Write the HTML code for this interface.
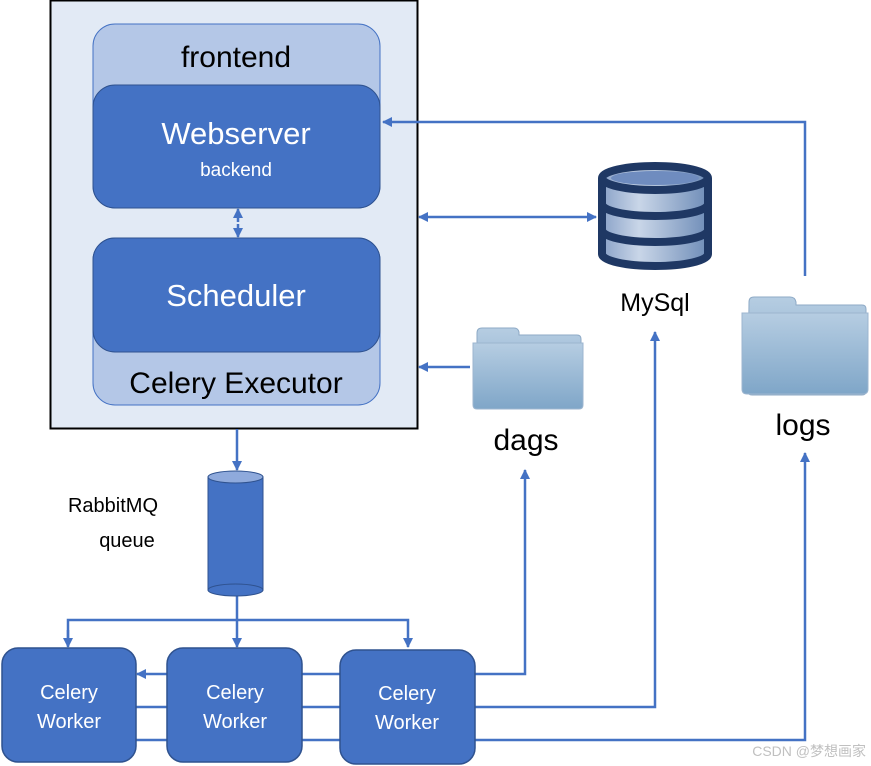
<!DOCTYPE html>
<html><head><style>body{margin:0;background:#fff}svg{display:block;font-family:"Liberation Sans","DejaVu Sans",sans-serif}</style></head><body>
<svg width="871" height="766" viewBox="0 0 871 766">
<defs>
<marker id="a" markerWidth="10" markerHeight="10" refX="9" refY="5" orient="auto" markerUnits="userSpaceOnUse"><path d="M0,0L10,5L0,10z" fill="#4472c4"/></marker>
<linearGradient id="f" x1="0" y1="0" x2="0" y2="1"><stop offset="0" stop-color="#b6cde2"/><stop offset="1" stop-color="#7fa6c8"/></linearGradient>
<linearGradient id="d" x1="0" y1="0" x2="1" y2="0"><stop offset="0" stop-color="#8aa2c8"/><stop offset=".35" stop-color="#c9d6e8"/><stop offset="1" stop-color="#6f8db8"/></linearGradient>
</defs>
<rect x="50.5" y="0.5" width="367" height="428" fill="#e2eaf5" stroke="#000" stroke-width="2"/>
<rect x="93" y="24" width="287" height="184" rx="22" fill="#b4c7e7" stroke="#4472c4"/>
<text x="236" y="67" font-size="30" text-anchor="middle" fill="#000">frontend</text>
<rect x="93" y="85" width="287" height="123" rx="22" fill="#4472c4" stroke="#2f528f"/>
<text x="236" y="144" font-size="31" text-anchor="middle" fill="#fff">Webserver</text>
<text x="236" y="176" font-size="19" text-anchor="middle" fill="#fff">backend</text>
<rect x="93" y="238" width="287" height="167" rx="22" fill="#b4c7e7" stroke="#4472c4"/>
<rect x="93" y="238" width="287" height="114" rx="22" fill="#4472c4" stroke="#2f528f"/>
<text x="236" y="306" font-size="31" text-anchor="middle" fill="#fff">Scheduler</text>
<text x="236" y="393" font-size="30" text-anchor="middle" fill="#000">Celery Executor</text>
<g stroke="#4472c4" stroke-width="2.5" fill="none">
<line x1="238" y1="222" x2="238" y2="209" marker-end="url(#a)"/>
<line x1="238" y1="224" x2="238" y2="237" marker-end="url(#a)"/>
<polyline points="805,276 805,122 383,122" marker-end="url(#a)"/>
<line x1="500" y1="217" x2="419" y2="217" marker-end="url(#a)"/>
<line x1="500" y1="217" x2="596" y2="217" marker-end="url(#a)"/>
<line x1="470" y1="367" x2="419" y2="367" marker-end="url(#a)"/>
<line x1="237" y1="429" x2="237" y2="470" marker-end="url(#a)"/>
<polyline points="237,590 237,620"/>
<polyline points="68,646 68,620 408,620 408,647" marker-end="url(#a)"/>
<line x1="68" y1="630" x2="68" y2="647" marker-end="url(#a)"/>
<line x1="237" y1="620" x2="237" y2="647" marker-end="url(#a)"/>
<line x1="340" y1="674" x2="137" y2="674" marker-end="url(#a)"/>
<line x1="136" y1="707" x2="340" y2="707"/>
<line x1="136" y1="740" x2="340" y2="740"/>
<polyline points="475,674 525,674 525,470" marker-end="url(#a)"/>
<polyline points="475,707 655,707 655,332" marker-end="url(#a)"/>
<polyline points="475,740 805,740 805,453" marker-end="url(#a)"/>
</g>
<rect x="208" y="477" width="55" height="113" fill="#4472c4" stroke="#2f528f"/>
<ellipse cx="235.5" cy="590" rx="27.5" ry="6" fill="#4472c4" stroke="#2f528f"/>
<ellipse cx="235.5" cy="477" rx="27.5" ry="6" fill="#8faadc" stroke="#2f528f"/>
<text x="113" y="512" font-size="20" text-anchor="middle">RabbitMQ</text>
<text x="127" y="547" font-size="20" text-anchor="middle">queue</text>
<g fill="#4472c4" stroke="#2f528f" stroke-width="1.5">
<rect x="2" y="648" width="134" height="114" rx="16"/>
<rect x="167" y="648" width="135" height="114" rx="16"/>
<rect x="340" y="650" width="135" height="114" rx="16"/>
</g>
<g fill="#fff" font-size="20" text-anchor="middle">
<text x="69" y="699">Celery</text><text x="69" y="728">Worker</text>
<text x="235" y="699">Celery</text><text x="235" y="728">Worker</text>
<text x="407" y="700">Celery</text><text x="407" y="729">Worker</text>
</g>
<!-- db -->
<g stroke="#1f3864" stroke-width="8" stroke-linejoin="round">
<path d="M602,178 a53,12 0 0 1 106,0 v76 a53,12 0 0 1 -106,0z" fill="url(#d)"/>
<path d="M602,204 a53,12 0 0 0 106,0 M602,230 a53,12 0 0 0 106,0" fill="none"/>
<path d="M602,178 a53,12 0 0 0 106,0" fill="none"/>
</g>
<ellipse cx="655" cy="178" rx="44" ry="7" fill="#6f8cbf"/>
<text x="655" y="311" font-size="25" text-anchor="middle">MySql</text>
<!-- folders -->
<path d="M477,333 q0,-5 5,-5 h32 q4,0 5,4 v3 h58 q4,0 4,4 v66 q0,4 -4,4 h-96 q-4,0 -4,-4z" fill="url(#f)" stroke="#8eaac6"/>
<path d="M473,343 h110 v62 q0,4 -4,4 h-102 q-4,0 -4,-4z" fill="url(#f)" stroke="#9cb5cf"/>
<text x="526" y="450" font-size="30" text-anchor="middle">dags</text>
<path d="M749,302 q0,-5 5,-5 h36 q5,0 6,5 v3 h66 q4,0 4,4 v82 q0,4 -4,4 h-110 q-4,0 -4,-4z" fill="url(#f)" stroke="#8eaac6"/>
<path d="M742,313 h126 v76 q0,5 -5,5 h-116 q-5,0 -5,-5z" fill="url(#f)" stroke="#9cb5cf"/>
<text x="803" y="435" font-size="30" text-anchor="middle">logs</text>
<text x="866" y="756" font-size="14" text-anchor="end" fill="#c0c0c0" font-family="Liberation Sans,Noto Sans CJK SC,sans-serif">CSDN @梦想画家</text>
</svg>
</body></html>
